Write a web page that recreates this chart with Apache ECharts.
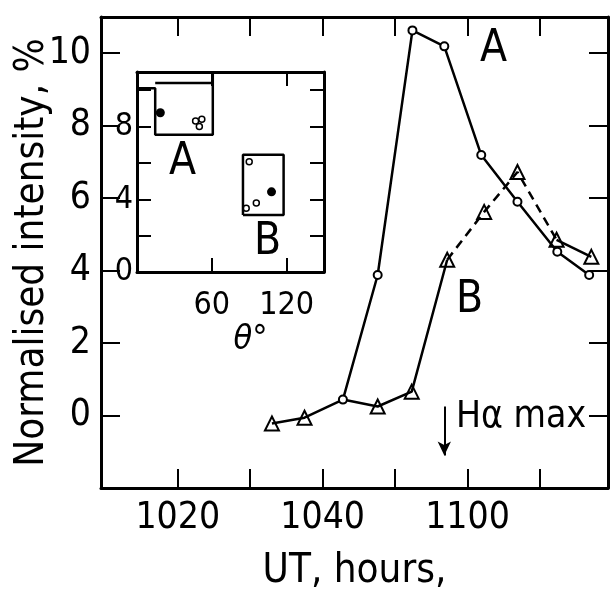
<!DOCTYPE html>
<html lang="en">
<head>
    <meta charset="UTF-8">
    <title>Normalised intensity vs UT</title>
    <script src="https://cdn.jsdelivr.net/npm/echarts@6/dist/echarts.min.js"></script>
    <style>
        body { margin: 0; padding: 0; background: #fff; }
        #chart { width: 611px; height: 598px; }
    </style>
</head>
<body>
    <div id="chart"></div>
    <script>
        // x values are minutes after 10:00 UT
        const FONT = '"Liberation Sans Narrow", "DejaVu Sans Condensed", "DejaVu Sans", sans-serif';

        // curve A (circles, solid)
        const aTime = [42.8, 47.6, 52.4, 56.8, 61.9, 66.9, 72.4, 76.8];
        const aValue = [0.44, 3.88, 10.63, 10.19, 7.19, 5.9, 4.52, 3.88];

        // curve B (triangles), dashed between index 5 and 8
        const bTime = [33.0, 37.5, 42.8, 47.6, 52.3, 57.2, 62.3, 66.9, 72.3, 77.1];
        const bValue = [-0.22, -0.06, 0.44, 0.25, 0.66, 4.3, 5.62, 6.72, 4.85, 4.38];
        const bDashFrom = 5, bDashTo = 8;
        const bShared = 2; // point shared with curve A, drawn as a circle

        // axis ticks
        const xTicks = [20, 30, 40, 50, 60, 70];
        const xLabels = [20, 40, 60];
        const yTicks = [0, 2, 4, 6, 8, 10];
        const hAlphaTime = 56.8;

        // inset: angle theta vs value
        const insetXTicks = [60, 120];
        const insetYTicks = [2, 4, 6, 8, 10];
        const insetYLabels = [0, 4, 8];
        const insetAFilled = [[18.7, 8.76]];
        const insetAOpen = [[47, 8.3], [50, 8.0], [52, 8.4]];
        const insetBFilled = [[107.9, 4.41]];
        const insetBOpen = [[90, 6.06], [87.6, 3.5], [95.7, 3.8]];
        const insetBoxA = [[0, 10.1], [14.6, 10.1], [14.6, 7.55], [60.8, 7.55], [60.8, 11]];
        const insetBoxATop = [[14.6, 10.4], [60.8, 10.4]];
        const insetBoxB = [[85, 3.14], [117.6, 3.14], [117.6, 6.45], [85, 6.45], [85, 3.14]];

        const zip = (xs, ys) => xs.map((x, i) => [x, ys[i]]);
        const fmtTime = v => {
            const h = 10 + Math.floor(v / 60);
            const m = v % 60;
            return String(h) + String(m).padStart(2, '0');
        };

        const aData = zip(aTime, aValue);
        const bData = zip(bTime, bValue);
        const bMarkers = bData.filter((p, i) => i !== bShared);

        const chart = echarts.init(document.getElementById('chart'));

        const mainAxisX = (pos, showLabel) => ({
            type: 'value', gridIndex: 0, position: pos,
            min: 9.4, max: 79.4,
            axisLine: { show: true, onZero: false, lineStyle: { color: '#000', width: 3 } },
            axisTick: { show: true, inside: true, length: 19, customValues: xTicks, lineStyle: { color: '#000', width: 2 } },
            axisLabel: { show: showLabel, customValues: xLabels, formatter: fmtTime, color: '#000', fontFamily: FONT, fontSize: 37, margin: 12 },
            splitLine: { show: false }
        });
        const mainAxisY = (pos, showLabel) => ({
            type: 'value', gridIndex: 0, position: pos,
            min: -2, max: 11,
            axisLine: { show: true, onZero: false, lineStyle: { color: '#000', width: 3 } },
            axisTick: { show: true, inside: true, length: 19, customValues: yTicks, lineStyle: { color: '#000', width: 2 } },
            axisLabel: { show: showLabel, customValues: yTicks, color: '#000', fontFamily: FONT, fontSize: 37, margin: 10 },
            splitLine: { show: false }
        });
        const insetAxisX = (pos, showLabel) => ({
            type: 'value', gridIndex: 1, position: pos,
            min: 0, max: 150,
            axisLine: { show: true, onZero: false, lineStyle: { color: '#000', width: 3 } },
            axisTick: { show: true, inside: true, length: 14, customValues: insetXTicks, lineStyle: { color: '#000', width: 2 } },
            axisLabel: { show: showLabel, customValues: insetXTicks, color: '#000', fontFamily: FONT, fontSize: 32, margin: 18 },
            splitLine: { show: false }
        });
        const insetAxisY = (pos, showLabel) => ({
            type: 'value', gridIndex: 1, position: pos,
            min: 0, max: 11,
            axisLine: { show: true, onZero: false, lineStyle: { color: '#000', width: 3 } },
            axisTick: { show: true, inside: true, length: 14, customValues: insetYTicks, lineStyle: { color: '#000', width: 2 } },
            axisLabel: { show: showLabel, customValues: insetYLabels, color: '#000', fontFamily: FONT, fontSize: 32, margin: 4 },
            splitLine: { show: false }
        });

        const blackLine = (data, extra) => Object.assign({
            type: 'line', data: data, symbol: 'none',
            lineStyle: { color: '#000', width: 2.5 },
            animation: false, silent: true
        }, extra);

        const xMain = mainAxisX('bottom', true);
        xMain.name = 'UT, hours,';
        xMain.nameLocation = 'middle';
        xMain.nameGap = 64;
        xMain.nameTextStyle = { color: '#000', fontFamily: FONT, fontSize: 40 };

        const yMain = mainAxisY('left', true);
        yMain.name = 'Normalised intensity, %';
        yMain.nameLocation = 'middle';
        yMain.nameGap = 48;
        yMain.nameMoveOverlap = false;
        yMain.nameTextStyle = { color: '#000', fontFamily: FONT, fontSize: 40 };

        const xInset = insetAxisX('bottom', true);
        xInset.name = 'θ°';
        xInset.nameLocation = 'middle';
        xInset.nameGap = 48;
        xInset.nameTextStyle = { color: '#000', fontFamily: FONT, fontSize: 34, fontStyle: 'italic', padding: [0, 0, 0, 40] };

        const option = {
            backgroundColor: '#fff',
            animation: false,
            grid: [
                { left: 101, top: 17, right: 3, bottom: 110, outerBoundsMode: 'none' },
                { left: 137, top: 72, width: 187, height: 200, outerBoundsMode: 'none' }
            ],
            xAxis: [xMain, mainAxisX('top', false), xInset, insetAxisX('top', false)],
            yAxis: [yMain, mainAxisY('right', false), insetAxisY('left', true), insetAxisY('right', false)],
            series: [
                blackLine(aData, {
                    symbol: 'circle', symbolSize: 8,
                    itemStyle: { color: '#fff', borderColor: '#000', borderWidth: 2 },
                    markLine: {
                        silent: true,
                        symbol: ['none', 'arrow'], symbolSize: [10, 14],
                        label: { show: false },
                        lineStyle: { color: '#000', width: 2, type: 'solid' },
                        data: [[{ coord: [hAlphaTime, 0.25] }, { coord: [hAlphaTime, -1.1] }]]
                    }
                }),
                blackLine(bData.slice(0, bDashFrom + 1)),
                blackLine(bData.slice(bDashFrom, bDashTo + 1), { lineStyle: { color: '#000', width: 2.5, type: [9, 6] } }),
                blackLine(bData.slice(bDashTo)),
                {
                    type: 'scatter', data: bMarkers,
                    symbol: 'triangle', symbolSize: 14,
                    itemStyle: { color: '#fff', borderColor: '#000', borderWidth: 2, opacity: 1 },
                    silent: true
                },
                // inset
                blackLine(insetBoxA, { xAxisIndex: 2, yAxisIndex: 2 }),
                blackLine(insetBoxATop, { xAxisIndex: 2, yAxisIndex: 2 }),
                blackLine(insetBoxB, { xAxisIndex: 2, yAxisIndex: 2 }),
                {
                    type: 'scatter', xAxisIndex: 2, yAxisIndex: 2,
                    data: insetAFilled.concat(insetBFilled),
                    symbol: 'circle', symbolSize: 9,
                    itemStyle: { color: '#000', opacity: 1 }, silent: true
                },
                {
                    type: 'scatter', xAxisIndex: 2, yAxisIndex: 2,
                    data: insetAOpen.concat(insetBOpen),
                    symbol: 'circle', symbolSize: 6,
                    itemStyle: { color: '#fff', borderColor: '#000', borderWidth: 1.5, opacity: 1 }, silent: true
                }
            ],
            graphic: [
                { type: 'text', left: 480, top: 28, style: { text: 'A', font: '44px ' + FONT, fill: '#000' } },
                { type: 'text', left: 456, top: 279, style: { text: 'B', font: '44px ' + FONT, fill: '#000' } },
                { type: 'text', left: 169, top: 141, style: { text: 'A', font: '44px ' + FONT, fill: '#000' } },
                { type: 'text', left: 254, top: 221, style: { text: 'B', font: '44px ' + FONT, fill: '#000' } },
                { type: 'text', left: 456, top: 399, style: { text: 'Hα max', font: '37px ' + FONT, fill: '#000' } }
            ]
        };

        chart.setOption(option);
    </script>
</body>
</html>
